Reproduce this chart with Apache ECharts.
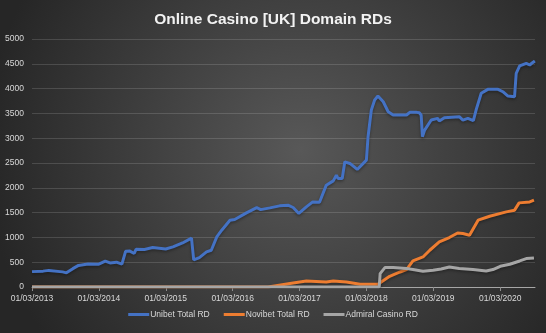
<!DOCTYPE html>
<html>
<head>
<meta charset="utf-8">
<script src="https://cdn.jsdelivr.net/npm/echarts@6/dist/echarts.min.js"></script>
<style>html,body{margin:0;padding:0;}#c{width:546px;height:333px;}</style>
</head>
<body>
<div id="c"></div>
<script>
const seriesNames = ['Unibet Total RD', 'Novibet Total RD', 'Admiral Casino RD'];
const xTickYears = [2013, 2014, 2015, 2016, 2017, 2018, 2019, 2020];
const yTicks = [0, 500, 1000, 1500, 2000, 2500, 3000, 3500, 4000, 4500, 5000];

const unibetData = [
  ['2013-03-01',310],['2013-05-01',320],['2013-06-01',335],['2013-08-15',305],['2013-09-05',285],
  ['2013-10-10',370],['2013-11-10',435],['2014-01-01',465],['2014-03-01',460],['2014-04-05',520],
  ['2014-05-01',485],['2014-06-05',500],['2014-07-05',460],['2014-07-25',720],['2014-08-15',727],
  ['2014-09-10',675],['2014-09-20',760],['2014-11-05',755],['2014-12-20',795],['2015-03-01',765],
  ['2015-04-10',808],['2015-06-01',888],['2015-07-20',985],['2015-08-01',545],['2015-09-01',593],
  ['2015-10-10',707],['2015-11-05',741],['2015-12-05',1010],['2016-01-01',1145],['2016-02-15',1347],
  ['2016-03-12',1361],['2016-03-20',1333],['2016-05-15',1494],['2016-07-10',1600],['2016-08-01',1560],
  ['2016-09-20',1595],['2016-11-12',1636],['2016-12-28',1650],['2017-01-25',1603],['2017-02-25',1482],
  ['2017-04-07',1615],['2017-05-12',1716],['2017-06-18',1710],['2017-07-25',2053],['2017-09-01',2140],
  ['2017-09-18',2255],['2017-09-27',2189],['2017-10-20',2189],['2017-11-03',2524],['2017-12-01',2491],
  ['2018-01-10',2370],['2018-03-01',2558],['2018-03-10',3029],['2018-03-28',3568],['2018-04-15',3770],
  ['2018-05-03',3850],['2018-06-01',3735],['2018-06-28',3533],['2018-07-25',3467],['2018-09-01',3467],
  ['2018-10-06',3467],['2018-10-24',3521],['2018-12-01',3521],['2018-12-15',3513],['2018-12-25',3467],
  ['2019-01-01',3029],['2019-01-13',3164],['2019-02-18',3366],['2019-03-25',3400],['2019-04-03',3345],
  ['2019-05-01',3412],['2019-07-21',3433],['2019-08-10',3366],['2019-09-06',3400],['2019-10-06',3352],
  ['2019-10-21',3568],['2019-11-18',3905],['2019-12-24',3985],['2020-02-18',3985],['2020-03-15',3937],
  ['2020-04-12',3850],['2020-05-18',3836],['2020-05-27',4308],['2020-06-15',4456],['2020-07-21',4510],
  ['2020-08-09',4476],['2020-08-24',4523],['2020-09-06',4557]
];

const novibetData = [
  ['2013-03-01',0],['2016-09-10',0],['2016-09-20',34],['2017-01-25',81],['2017-04-07',121],
  ['2017-07-25',101],['2017-09-01',121],['2017-11-12',101],['2018-01-25',54],['2018-05-03',54],
  ['2018-05-21',101],['2018-07-06',216],['2018-09-01',303],['2018-10-06',351],['2018-11-10',525],
  ['2019-01-04',606],['2019-02-10',741],['2019-04-03',908],['2019-05-28',997],['2019-07-12',1090],
  ['2019-08-10',1078],['2019-09-15',1044],['2019-11-01',1347],['2020-01-03',1427],['2020-04-03',1514],
  ['2020-05-18',1549],['2020-06-12',1696],['2020-08-09',1716],['2020-09-01',1750]
];

const admiralData = [
  ['2013-03-01',0],['2018-05-10',0],['2018-05-15',270],['2018-06-10',391],['2018-07-25',391],
  ['2018-10-06',371],['2018-11-10',351],['2019-01-04',317],['2019-02-28',337],['2019-04-13',364],
  ['2019-05-28',404],['2019-07-21',371],['2019-10-04',351],['2019-12-15',323],['2020-01-21',351],
  ['2020-03-01',418],['2020-04-22',458],['2020-06-15',525],['2020-07-21',573],['2020-09-01',585]
];

const colors = ['#4472C4', '#ED7D31', '#A5A5A5'];
const startMs = Date.parse('2013-03-01');
const yearMs = 365.25 * 864e5;
function toYears(arr) {
  return arr.map(p => [(Date.parse(p[0]) - startMs) / yearMs, p[1]]);
}
const tickVals = xTickYears.map(y => y - xTickYears[0]);
const txt = '#d9d9d9';
const font = 'Liberation Sans';

const chart = echarts.init(document.getElementById('c'));
chart.setOption({
  backgroundColor: {
    type: 'radial', x: 0.55, y: 0.45, r: 0.95,
    colorStops: [{offset: 0, color: '#585858'}, {offset: 1, color: '#262626'}]
  },
  animation: false,
  title: {
    text: 'Online Casino [UK] Domain RDs',
    left: 'center', top: 7,
    textStyle: {color: '#f2f2f2', fontSize: 15.5, fontWeight: 'bold', fontFamily: font}
  },
  legend: {
    bottom: 9, left: 'center',
    icon: 'rect', itemWidth: 21, itemHeight: 3, itemGap: 14,
    textStyle: {color: txt, fontSize: 8.5, fontFamily: font, padding: [0, 0, 0, -4]},
    data: seriesNames
  },
  grid: {left: 32, right: 11, top: 39, bottom: 46, containLabel: false},
  xAxis: {
    type: 'value', min: 0, max: 7.52, interval: 1,
    axisLine: {show: true, lineStyle: {color: '#a6a6a6', width: 1}},
    axisTick: {show: true, customValues: tickVals, length: 4, lineStyle: {color: '#8c8c8c'}},
    axisLabel: {
      customValues: tickVals, color: txt, fontSize: 8.5, fontFamily: font, margin: 7,
      formatter: v => '01/03/' + (xTickYears[0] + Math.round(v))
    },
    splitLine: {show: false}
  },
  yAxis: {
    type: 'value', min: yTicks[0], max: yTicks[yTicks.length - 1], interval: 500,
    axisLine: {show: false}, axisTick: {show: false},
    axisLabel: {color: txt, fontSize: 8.5, fontFamily: font, margin: 8, formatter: v => String(v)},
    splitLine: {lineStyle: {color: 'rgba(255,255,255,0.14)', width: 1}}
  },
  series: [unibetData, novibetData, admiralData].map((d, i) => ({
    name: seriesNames[i], type: 'line', data: toYears(d),
    showSymbol: false, symbol: 'none',
    lineStyle: {color: colors[i], width: 3, shadowColor: 'rgba(0,0,0,0.35)', shadowBlur: 3, shadowOffsetY: 1.5},
    itemStyle: {color: colors[i]}
  }))
});
</script>
</body>
</html>
